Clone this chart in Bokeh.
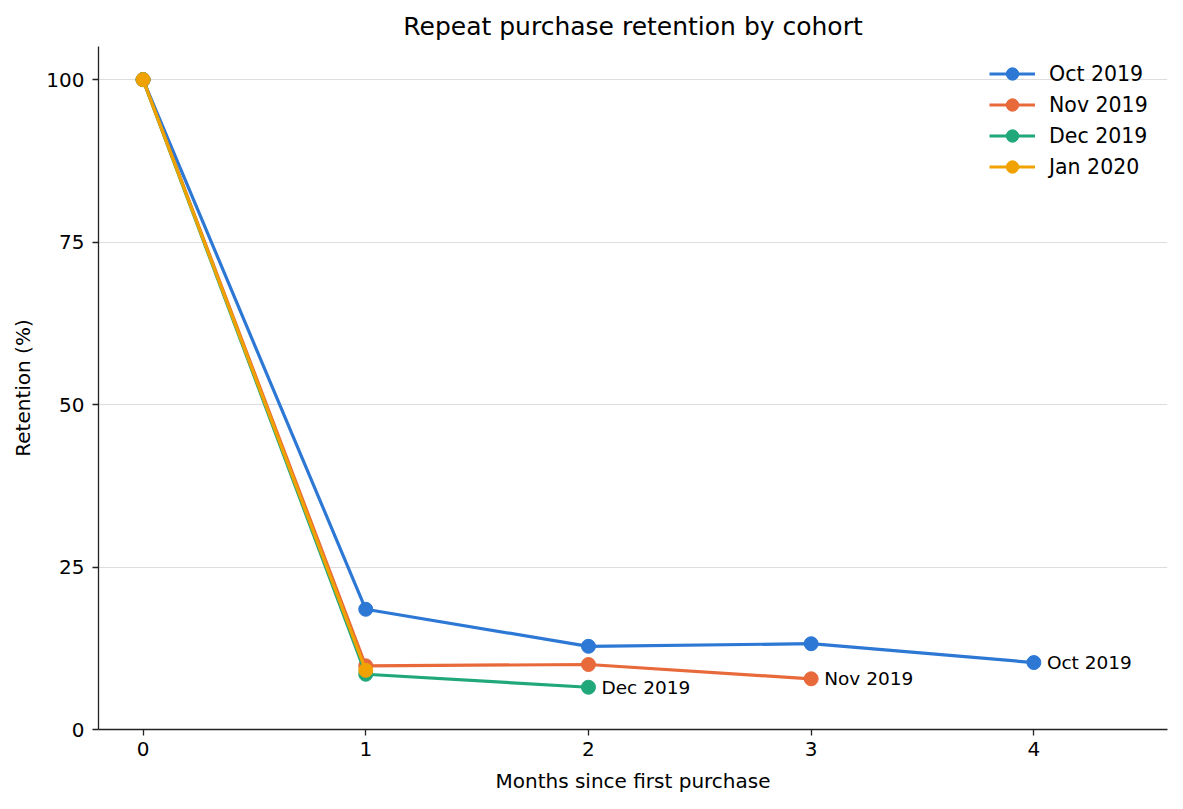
from bokeh.plotting import figure
from bokeh.models import Range1d, FixedTicker, Legend, LegendItem
from bokeh.embed import file_html
from bokeh.resources import INLINE

months = [0, 1, 2, 3, 4]

cohorts = ["Oct 2019", "Nov 2019", "Dec 2019", "Jan 2020"]
oct_2019 = [100, 18.5, 12.8, 13.2, 10.3]
nov_2019 = [100, 9.8, 10.0, 7.8]
dec_2019 = [100, 8.5, 6.5]
jan_2020 = [100, 9.1]

colors = ["#2c78d4", "#e8693a", "#20a87a", "#f0a202"]
series = [oct_2019, nov_2019, dec_2019, jan_2020]

FONT = "DejaVu Sans"

p = figure(width=1175, height=801, output_backend="svg", toolbar_location=None,
           x_range=Range1d(-0.2, 4.6), y_range=Range1d(0, 105.1),
           title="Repeat purchase retention by cohort",
           min_border_left=98, min_border_right=8, min_border_top=46, min_border_bottom=72)

p.title.align = "center"
p.title.text_font = FONT
p.title.text_font_size = "25px"
p.title.text_font_style = "normal"
p.title.text_color = "#000000"
p.title.standoff = 11
p.outline_line_color = None

items = []
for name, vals, c in zip(cohorts, series, colors):
    xs = months[:len(vals)]
    r1 = p.line(xs, vals, line_color=c, line_width=3.2)
    r2 = p.scatter(xs, vals, size=14, fill_color=c, line_color=c)
    items.append(LegendItem(label=name, renderers=[r1, r2]))
    # end-of-line label, except for the single-step cohort
    if len(vals) > 2:
        p.text([xs[-1]], [vals[-1]], text=[name], x_offset=13, text_baseline="middle",
               text_font_size="18.5px", text_color="#000000", text_font={"value": FONT})

legend = Legend(items=items, location="top_right")
legend.border_line_color = None
legend.background_fill_alpha = 0
legend.label_text_font = FONT
legend.label_text_font_size = "20.5px"
legend.label_text_color = "#000000"
legend.label_standoff = 14
legend.label_width = 106
legend.glyph_width = 46
legend.glyph_height = 31
legend.label_height = 31
legend.spacing = 0
legend.margin = 12
legend.padding = 10
p.add_layout(legend)

p.xaxis.ticker = FixedTicker(ticks=months)
p.yaxis.ticker = FixedTicker(ticks=[0, 25, 50, 75, 100])
p.xaxis.axis_label = "Months since first purchase"
p.yaxis.axis_label = "Retention (%)"
for ax in (p.xaxis, p.yaxis):
    ax.axis_label_text_font = FONT
    ax.axis_label_text_font_size = "20px"
    ax.axis_label_text_font_style = "normal"
    ax.axis_label_text_color = "#000000"
    ax.major_label_text_font = FONT
    ax.major_label_text_font_size = "20px"
    ax.minor_tick_line_color = None
    ax.major_tick_out = 6
    ax.major_tick_in = 0
    ax.axis_line_color = "#222222"
    ax.axis_line_width = 1.3
    ax.major_tick_line_color = "#222222"
    ax.major_tick_line_width = 1.3
    ax.major_label_text_color = "#000000"
    ax.axis_label_standoff = 8
p.xaxis.axis_label_standoff = 10
p.yaxis.major_label_standoff = 8
p.xaxis.major_label_standoff = 6

p.xgrid.grid_line_color = None
p.ygrid.grid_line_color = "#dddddd"
p.ygrid.grid_line_width = 1.2

open("out.html", "w").write(file_html(p, INLINE))
